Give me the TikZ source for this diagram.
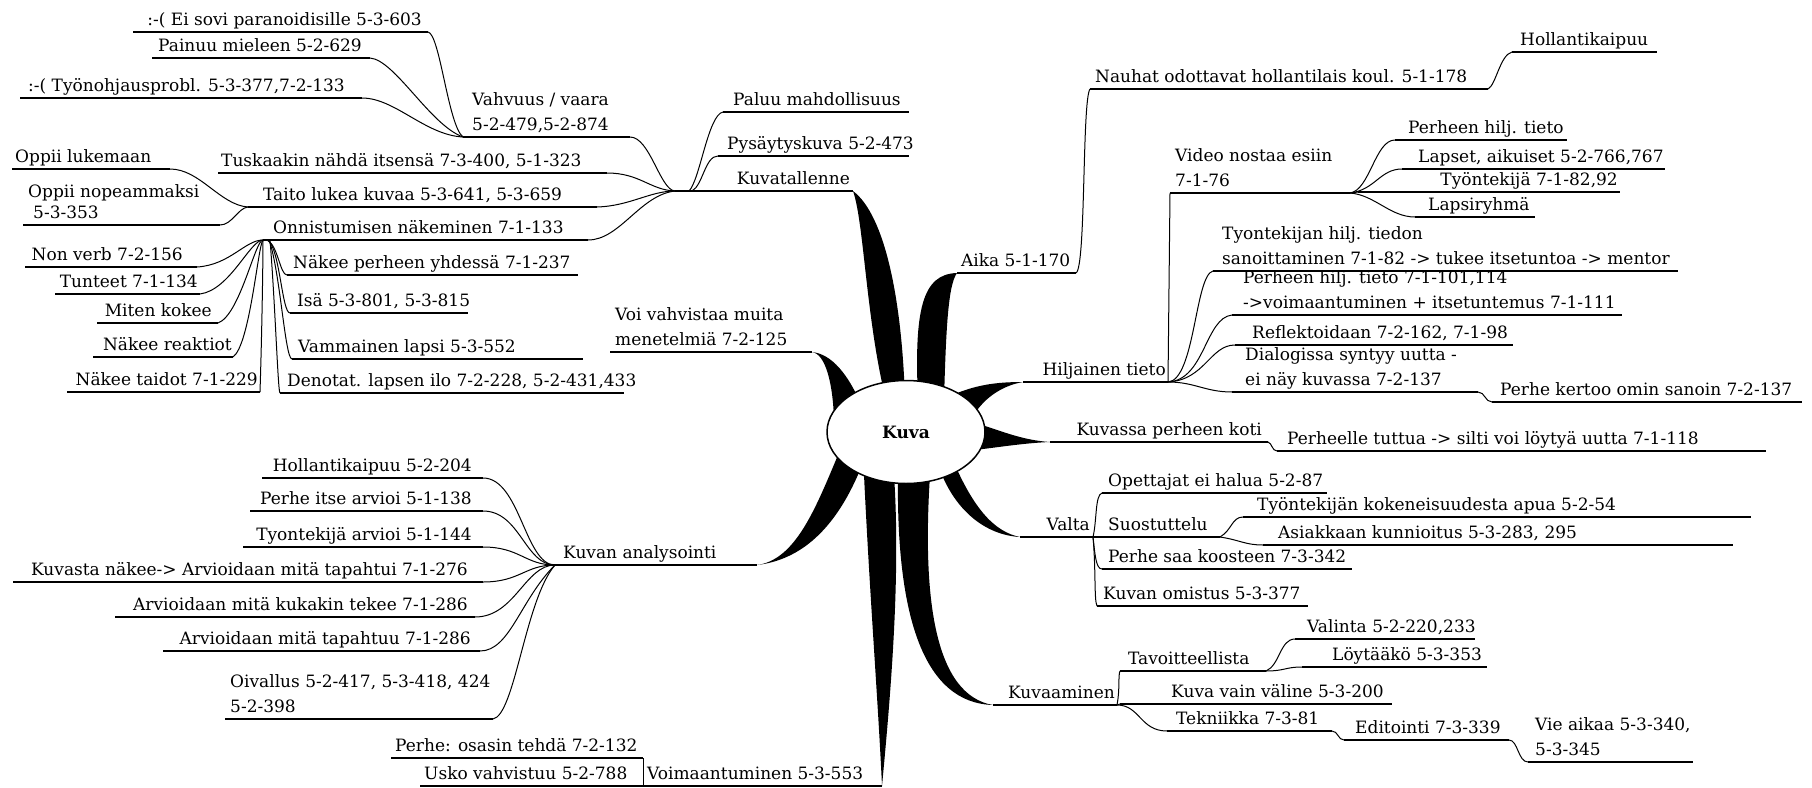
\documentclass[tikz,border=0pt]{standalone}
\usepackage{fontspec}
\setmainfont{DejaVu Serif}
\usetikzlibrary{shapes.geometric}
\tikzset{
  lab/.style={inner sep=0pt, text depth=0pt, align=left, font=\fontsize{17}{25}\selectfont},
  ul/.style={line width=1.1pt},
  cn/.style={line width=1pt},
  petal/.style={fill=black},
}
% \twig{name}{x0}{x1}{y}{west|east}{text x}{text}: an underlined label,
% with its underline ends named name-l and name-r
\newcommand\twig[7]{%
  \coordinate (#1-l) at (#2,#4);
  \coordinate (#1-r) at (#3,#4);
  \node[lab,anchor=south #5] (#1) at (#6,#4-6) {#7};
  \draw[ul] (#1-l) -- (#1-r);}
\begin{document}
\begin{tikzpicture}[x=1pt,y=-1pt]
\fill[white] (0,0) rectangle (1812,787);
\useasboundingbox (0,0) rectangle (1812,787);

% ---------- main branch labels ----------
\twig{kuvatal}{675}{853}{191}{east}{850}{Kuvatallenne}
\draw[line width=1.8pt] (683,191) -- (kuvatal-r);
\twig{aika}{957}{1076}{273}{west}{961}{Aika 5-1-170}
\twig{voivahv}{610}{812}{352}{west}{615}{Voi vahvistaa muita\\menetelmiä 7-2-125}
\twig{hilj}{1023}{1168}{382}{east}{1166}{Hiljainen tieto}
\twig{kuvassa}{1050}{1268}{442}{east}{1262}{Kuvassa perheen koti}
\twig{valta}{1020}{1093}{537}{east}{1090}{Valta}
\twig{kuvaam}{993}{1117}{705}{east}{1115}{Kuvaaminen}
\twig{voim}{643}{882}{786}{west}{647}{Voimaantuminen 5-3-553}
\twig{analys}{555}{757}{565}{west}{563}{Kuvan analysointi}

% ---------- petals from the centre ----------
\fill[petal] (kuvatal-r) .. controls (864,222) and (866,320) .. (886,400) -- (905,400) .. controls (902,300) and (885,215) .. (kuvatal-r) -- cycle;
\fill[petal] (aika-l) .. controls (922,274) and (914,310) .. (918,400) -- (944,400) .. controls (946,330) and (948,285) .. (aika-l) -- cycle;
\fill[petal] (voivahv-r) .. controls (826,354) and (833,385) .. (834,420) -- (860,402) .. controls (848,375) and (832,354) .. (voivahv-r) -- cycle;
\fill[petal] (hilj-l) .. controls (995,382) and (975,385) .. (950,396) -- (972,418) .. controls (982,400) and (1000,386) .. (hilj-l) -- cycle;
\fill[petal] (kuvassa-l) .. controls (1020,440) and (1000,430) .. (975,423) -- (975,450) .. controls (1000,447) and (1025,443) .. (kuvassa-l) -- cycle;
\fill[petal] (valta-l) .. controls (985,535) and (955,510) .. (940,470) -- (955,465) .. controls (975,510) and (995,532) .. (valta-l) -- cycle;
\fill[petal] (kuvaam-l) .. controls (925,703) and (896,620) .. (898,475) -- (930,475) .. controls (922,600) and (935,695) .. (kuvaam-l) -- cycle;
\fill[petal] (voim-r) .. controls (878,700) and (870,600) .. (864,475) -- (894,475) .. controls (901,580) and (890,700) .. (voim-r) -- cycle;
\fill[petal] (analys-r) .. controls (795,560) and (815,510) .. (838,455) -- (860,470) .. controls (835,530) and (800,560) .. (analys-r) -- cycle;

\node[ellipse, draw, fill=white, line width=1.5pt, minimum width=158pt, minimum height=103pt,
      font=\fontsize{17}{20}\selectfont\bfseries] (kuva) at (906,432) {Kuva};

% ---------- Kuvatallenne ----------
\twig{paluu}{723}{909}{112}{west}{733}{Paluu mahdollisuus}
\twig{pysay}{718}{909}{156}{west}{727}{Pysäytyskuva 5-2-473}
\twig{vahv}{463}{630}{137}{west}{472}{Vahvuus / vaara\\5-2-479,5-2-874}
\twig{tusk}{218}{607}{173}{west}{221}{Tuskaakin nähdä itsensä 7-3-400, 5-1-323}
\twig{taito}{248}{597}{207}{west}{263}{Taito lukea kuvaa 5-3-641, 5-3-659}
\twig{onn}{263}{588}{240}{west}{273}{Onnistumisen näkeminen 7-1-133}
\twig{vahv1}{133}{428}{32}{east}{422}{:-( Ei sovi paranoidisille 5-3-603}
\twig{vahv2}{152}{370}{58}{east}{362}{Painuu mieleen 5-2-629}
\twig{vahv3}{20}{362}{98}{east}{345}{:-( Työnohjausprobl. 5-3-377,7-2-133}
\twig{oppi1}{12}{170}{169}{west}{15}{Oppii lukemaan}
\twig{oppi2}{23}{220}{225}{west}{28}{Oppii nopeammaksi\\[-4pt]\hspace*{5pt}5-3-353}
\twig{nonverb}{25}{197}{267}{east}{183}{Non verb 7-2-156}
\twig{tunteet}{55}{200}{294}{east}{198}{Tunteet 7-1-134}
\twig{miten}{97}{218}{323}{east}{212}{Miten kokee}
\twig{nreakt}{93}{233}{357}{east}{232}{Näkee reaktiot}
\twig{ntaidot}{67}{260}{392}{east}{258}{Näkee taidot 7-1-229}
\twig{nperh}{287}{578}{275}{west}{293}{Näkee perheen yhdessä 7-1-237}
\twig{isa}{290}{468}{313}{west}{297}{Isä 5-3-801, 5-3-815}
\twig{vamm}{292}{583}{359}{west}{298}{Vammainen lapsi 5-3-552}
\twig{denot}{280}{624}{393}{west}{287}{Denotat. lapsen ilo 7-2-228, 5-2-431,433}

\draw[cn] (vahv-r) .. controls (650,137) and (660,190) .. (kuvatal-l);
\draw[cn] (tusk-r) .. controls (640,173) and (650,190) .. (kuvatal-l);
\draw[cn] (taito-r) .. controls (630,206) and (650,191) .. (kuvatal-l);
\draw[cn] (onn-r) .. controls (620,240) and (640,195) .. (kuvatal-l);
\draw[cn] ([xshift=14pt]kuvatal-l) .. controls (700,180) and (708,115) .. (paluu-l);
\draw[cn] ([xshift=17pt]kuvatal-l) .. controls (703,185) and (705,156) .. (pysay-l);
\draw[cn] (vahv1-r) .. controls (440,34) and (448,125) .. (vahv-l);
\draw[cn] (vahv2-r) .. controls (395,60) and (430,125) .. (vahv-l);
\draw[cn] (vahv3-r) .. controls (395,98) and (425,135) .. (vahv-l);
\draw[cn] (oppi1-r) .. controls (200,169) and (220,205) .. (taito-l);
\draw[cn] (oppi2-r) .. controls (232,225) and (238,208) .. (taito-l);
\draw[cn] (nonverb-r) .. controls (230,265) and (245,240) .. (onn-l);
\draw[cn] (tunteet-r) .. controls (230,290) and (250,240) .. (onn-l);
\draw[cn] (miten-r) .. controls (240,315) and (255,240) .. (onn-l);
\draw[cn] (nreakt-r) .. controls (250,345) and (258,245) .. (onn-l);
\draw[cn] (ntaidot-r) .. controls (262,330) and (263,260) .. (onn-l);
\draw[cn] ([xshift=4pt]onn-l) .. controls (278,245) and (280,275) .. (nperh-l);
\draw[cn] ([xshift=5pt]onn-l) .. controls (280,250) and (282,313) .. (isa-l);
\draw[cn] ([xshift=6pt]onn-l) .. controls (280,270) and (285,359) .. (vamm-l);
\draw[cn] ([xshift=7pt]onn-l) .. controls (275,300) and (278,393) .. (denot-l);

% ---------- Aika ----------
\twig{nauhat}{1090}{1488}{89}{west}{1095}{Nauhat odottavat hollantilais koul. 5-1-178}
\twig{hollk}{1512}{1657}{52}{west}{1520}{Hollantikaipuu}
\draw[cn] (aika-r) .. controls (1086,268) and (1082,100) .. (nauhat-l);
\draw[cn] (nauhat-r) .. controls (1496,85) and (1500,55) .. (hollk-l);

% ---------- Hiljainen tieto ----------
\twig{video}{1170}{1350}{193}{west}{1175}{Video nostaa esiin\\7-1-76}
\twig{vph}{1395}{1567}{140}{west}{1408}{Perheen hilj. tieto}
\twig{vla}{1402}{1665}{169}{west}{1418}{Lapset, aikuiset 5-2-766,767}
\twig{vty}{1358}{1620}{192}{east}{1618}{Työntekijä 7-1-82,92}
\twig{vlr}{1415}{1535}{217}{west}{1428}{Lapsiryhmä}
\twig{tyont}{1213}{1678}{271}{west}{1222}{Tyontekijan hilj. tiedon\\sanoittaminen 7-1-82 -> tukee itsetuntoa -> mentor}
\twig{perhh}{1232}{1622}{315}{west}{1243}{Perheen hilj. tieto 7-1-101,114\\->voimaantuminen + itsetuntemus 7-1-111}
\twig{refl}{1235}{1513}{345}{west}{1252}{Reflektoidaan 7-2-162, 7-1-98}
\twig{dial}{1232}{1478}{392}{west}{1245}{Dialogissa syntyy uutta -\\ei näy kuvassa 7-2-137}
\twig{perhek}{1492}{1802}{402}{west}{1500}{Perhe kertoo omin sanoin 7-2-137}
\draw[cn] (hilj-r) -- (video-l);
\draw[cn] (video-r) .. controls (1370,190) and (1375,140) .. (vph-l);
\draw[cn] (video-r) .. controls (1375,190) and (1380,169) .. (vla-l);
\draw[cn] (video-r) -- (vty-l);
\draw[cn] (video-r) .. controls (1375,195) and (1390,217) .. (vlr-l);
\draw[cn] (hilj-r) .. controls (1195,380) and (1195,275) .. (tyont-l);
\draw[cn] (hilj-r) .. controls (1205,380) and (1205,318) .. (perhh-l);
\draw[cn] (hilj-r) .. controls (1205,380) and (1210,345) .. (refl-l);
\draw[cn] (hilj-r) .. controls (1195,382) and (1205,392) .. (dial-l);
\draw[cn] (dial-r) .. controls (1485,392) and (1485,402) .. (perhek-l);

% ---------- Kuvassa perheen koti ----------
\twig{perheelle}{1277}{1766}{451}{west}{1287}{Perheelle tuttua -> silti voi löytyä uutta 7-1-118}
\draw[cn] (kuvassa-r) .. controls (1272,443) and (1272,451) .. (perheelle-l);

% ---------- Valta ----------
\twig{opett}{1102}{1327}{493}{west}{1108}{Opettajat ei halua 5-2-87}
\twig{suost}{1093}{1220}{537}{west}{1108}{Suostuttelu}
\twig{tyokok}{1243}{1751}{517}{west}{1257}{Työntekijän kokeneisuudesta apua 5-2-54}
\twig{asiak}{1263}{1733}{545}{west}{1278}{Asiakkaan kunnioitus 5-3-283, 295}
\twig{perhesaa}{1102}{1352}{569}{west}{1108}{Perhe saa koosteen 7-3-342}
\twig{kuvanom}{1097}{1308}{606}{west}{1103}{Kuvan omistus 5-3-377}
\draw[cn] (valta-r) .. controls (1097,520) and (1095,495) .. (opett-l);
\draw[cn] (valta-r) -- (suost-l);
\draw[cn] (valta-r) .. controls (1095,555) and (1096,569) .. (perhesaa-l);
\draw[cn] (valta-r) .. controls (1096,570) and (1094,600) .. (kuvanom-l);
\draw[cn] (suost-r) .. controls (1232,530) and (1232,517) .. (tyokok-l);
\draw[cn] (suost-r) .. controls (1240,540) and (1245,545) .. (asiak-l);

% ---------- Kuvaaminen ----------
\twig{tavoit}{1120}{1266}{671}{west}{1128}{Tavoitteellista}
\twig{valinta}{1295}{1475}{639}{west}{1307}{Valinta 5-2-220,233}
\twig{loyt}{1302}{1487}{667}{west}{1332}{Löytääkö 5-3-353}
\twig{kuvavain}{1120}{1392}{704}{west}{1171}{Kuva vain väline 5-3-200}
\twig{tekn}{1167}{1332}{731}{west}{1176}{Tekniikka 7-3-81}
\twig{edit}{1344}{1509}{740}{west}{1355}{Editointi 7-3-339}
\twig{vieaikaa}{1528}{1693}{762}{west}{1535}{Vie aikaa 5-3-340,\\5-3-345}
\draw[cn] (kuvaam-r) .. controls (1120,690) and (1118,675) .. (tavoit-l);
\draw[cn] (kuvaam-r) -- (kuvavain-l);
\draw[cn] (kuvaam-r) .. controls (1140,705) and (1140,731) .. (tekn-l);
\draw[cn] (tavoit-r) .. controls (1280,665) and (1280,639) .. (valinta-l);
\draw[cn] (tavoit-r) .. controls (1285,671) and (1285,667) .. (loyt-l);
\draw[cn] (tekn-r) .. controls (1338,731) and (1338,740) .. (edit-l);
\draw[cn] (edit-r) .. controls (1518,740) and (1518,762) .. (vieaikaa-l);

% ---------- Kuvan analysointi ----------
\twig{ah1}{262}{483}{478}{east}{472}{Hollantikaipuu 5-2-204}
\twig{ah2}{250}{483}{511}{east}{472}{Perhe itse arvioi 5-1-138}
\twig{ah3}{243}{483}{547}{east}{472}{Tyontekijä arvioi 5-1-144}
\twig{ah4}{13}{483}{582}{east}{468}{Kuvasta näkee-> Arvioidaan mitä tapahtui 7-1-276}
\twig{ah5}{115}{475}{617}{east}{468}{Arvioidaan mitä kukakin tekee 7-1-286}
\twig{ah6}{163}{480}{651}{east}{471}{Arvioidaan mitä tapahtuu 7-1-286}
\twig{ah7}{225}{493}{719}{west}{230}{Oivallus 5-2-417, 5-3-418, 424\\5-2-398}
\draw[cn] (ah1-r) .. controls (520,478) and (525,565) .. (analys-l);
\draw[cn] (ah2-r) .. controls (520,511) and (525,565) .. (analys-l);
\draw[cn] (ah3-r) .. controls (520,547) and (525,565) .. (analys-l);
\draw[cn] (ah4-r) .. controls (520,582) and (525,565) .. (analys-l);
\draw[cn] (ah5-r) .. controls (515,617) and (525,565) .. (analys-l);
\draw[cn] (ah6-r) .. controls (510,651) and (520,600) .. (analys-l);
\draw[cn] (ah7-r) .. controls (515,715) and (525,600) .. (analys-l);

% ---------- Voimaantuminen ----------
\twig{perheos}{391}{643}{758}{west}{395}{Perhe: osasin tehdä 7-2-132}
\twig{usko}{420}{643}{786}{west}{424}{Usko vahvistuu 5-2-788}
\draw[cn] (usko-r) -- (voim-l);
\draw[cn] (voim-l) -- (perheos-r);
\end{tikzpicture}
\end{document}
